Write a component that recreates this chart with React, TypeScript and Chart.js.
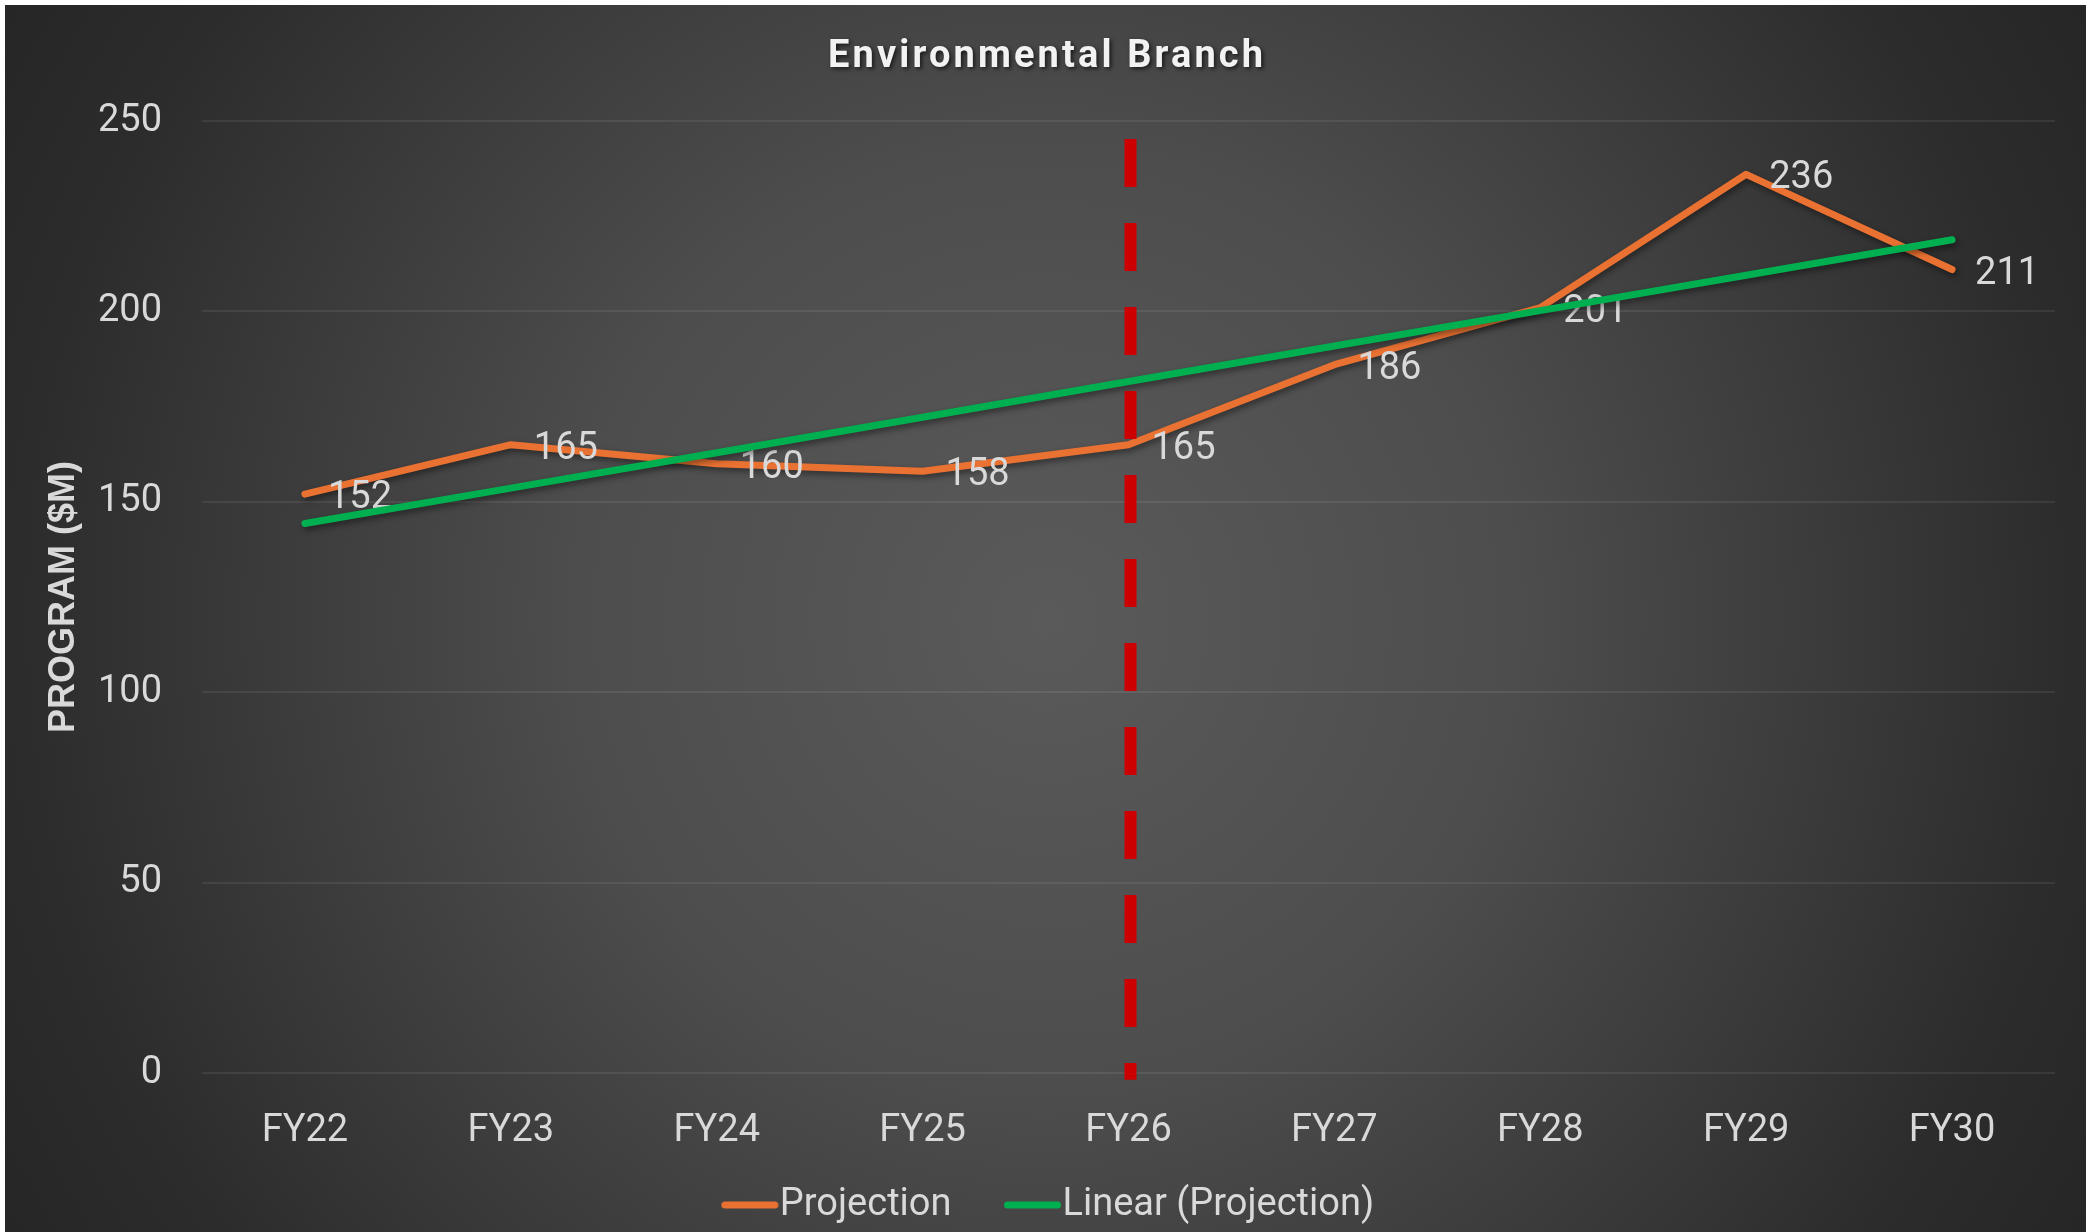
import React, { useEffect, useRef } from "react";
import { Chart, registerables } from "chart.js";

Chart.register(...registerables);

// ---------- data ----------
const categories = ["FY22", "FY23", "FY24", "FY25", "FY26", "FY27", "FY28", "FY29", "FY30"];
const projection = [152, 165, 160, 158, 165, 186, 201, 236, 211];
const linearTrend = [144.3, 153.6, 162.9, 172.2, 181.6, 190.9, 200.2, 209.5, 218.8];
const yTickValues = [0, 50, 100, 150, 200, 250];
const seriesNames = ["Projection", "Linear (Projection)"];
const chartTitle = "Environmental Branch";
const yAxisTitle = "PROGRAM ($M)";
const markerCategory = "FY26";
const markerTop = 245.3;
const markerBottom = -1.8;

// ---------- style ----------
const ORANGE = "#E97132";
const GREEN = "#00B050";
const RED = "#CC0000";
const TEXT = "#D9D9D9";
const FONT = "Roboto";

// legend marker image: lead space, then a 57px rounded line
const MARKER_W = 132;
function makeLegendMarker(color: string) {
  const c = document.createElement("canvas");
  c.width = MARKER_W;
  c.height = 12;
  const g = c.getContext("2d")!;
  g.strokeStyle = color;
  g.lineWidth = 7;
  g.lineCap = "round";
  g.beginPath();
  g.moveTo(67.5, 6);
  g.lineTo(117.5, 6);
  g.stroke();
  return c;
}

const backgroundPlugin = {
  id: "bgGradient",
  beforeDraw(chart: any) {
    const { ctx, width, height } = chart;
    const cx = width / 2;
    const cy = height / 2;
    const r = Math.hypot(cx, cy);
    const g = ctx.createRadialGradient(cx, cy, 0, cx, cy, r);
    g.addColorStop(0, "#5a5a5a");
    g.addColorStop(0.39, "#4d4d4d");
    g.addColorStop(0.63, "#3c3c3c");
    g.addColorStop(0.85, "#2c2c2c");
    g.addColorStop(1, "#262626");
    ctx.save();
    ctx.fillStyle = g;
    ctx.fillRect(0, 0, width, height);
    ctx.restore();
  },
};

const titlePlugin = {
  id: "customTitle",
  afterDraw(chart: any) {
    const { ctx, width } = chart;
    ctx.save();
    ctx.font = `bold 38px ${FONT}`;
    const plain = ctx.measureText(chartTitle).width;
    const target = 435;
    const n = chartTitle.length;
    const spacing = Math.max(0, (target - plain) / (n - 1));
    (ctx as any).letterSpacing = `${spacing}px`;
    ctx.textBaseline = "alphabetic";
    ctx.textAlign = "left";
    ctx.fillStyle = "#F2F2F2";
    ctx.shadowColor = "rgba(0,0,0,0.65)";
    ctx.shadowBlur = 4;
    ctx.shadowOffsetX = 2;
    ctx.shadowOffsetY = 2;
    ctx.fillText(chartTitle, width / 2 - target / 2, 48 + 14);
    ctx.restore();
  },
};

const lineShadowAndLabels = {
  id: "lineShadowAndLabels",
  beforeDatasetDraw(chart: any) {
    const { ctx } = chart;
    ctx.save();
    ctx.shadowColor = "rgba(0,0,0,0.45)";
    ctx.shadowBlur = 6;
    ctx.shadowOffsetX = 2;
    ctx.shadowOffsetY = 3;
  },
  afterDatasetDraw(chart: any, args: any) {
    const { ctx } = chart;
    ctx.restore();
    if (args.index !== 0) return;
    const meta = chart.getDatasetMeta(0);
    ctx.save();
    ctx.font = `38px ${FONT}`;
    ctx.fillStyle = TEXT;
    ctx.textAlign = "left";
    ctx.textBaseline = "alphabetic";
    meta.data.forEach((pt: any, i: number) => {
      ctx.fillText(String(projection[i]), pt.x + 23, pt.y + 14);
    });
    ctx.restore();
  },
};

const markerPlugin = {
  id: "fy26Marker",
  afterDatasetsDraw(chart: any) {
    const { ctx, scales } = chart;
    const x = scales.x.getPixelForValue(categories.indexOf(markerCategory)) + 2;
    const y1 = scales.y.getPixelForValue(markerTop);
    const y2 = scales.y.getPixelForValue(markerBottom);
    ctx.save();
    ctx.strokeStyle = RED;
    ctx.lineWidth = 12;
    ctx.lineCap = "butt";
    ctx.setLineDash([48, 36]);
    ctx.beginPath();
    ctx.moveTo(x, y1);
    ctx.lineTo(x, y2);
    ctx.stroke();
    ctx.restore();
  },
};

export default function App() {
  const ref = useRef<HTMLCanvasElement>(null);

  useEffect(() => {
    if (!ref.current) return;
    Chart.defaults.font.family = FONT;
    const markers = [makeLegendMarker(ORANGE), makeLegendMarker(GREEN)];
    const chart = new Chart(ref.current, {
      type: "line",
      data: {
        labels: categories,
        datasets: [
          {
            label: seriesNames[0],
            data: projection,
            borderColor: ORANGE,
            backgroundColor: ORANGE,
            borderWidth: 7,
            borderCapStyle: "round",
            borderJoinStyle: "round",
            pointRadius: 0,
            pointHoverRadius: 0,
            tension: 0,
            order: 2,
          },
          {
            label: seriesNames[1],
            data: linearTrend,
            borderColor: GREEN,
            backgroundColor: GREEN,
            borderWidth: 7,
            borderCapStyle: "round",
            borderJoinStyle: "round",
            pointRadius: 0,
            pointHoverRadius: 0,
            tension: 0,
            order: 1,
          },
        ],
      },
      options: {
        responsive: false,
        devicePixelRatio: 1,
        animation: false,
        layout: { padding: { top: 116, right: 31, left: 0, bottom: -2 } },
        plugins: {
          title: { display: false },
          tooltip: { enabled: false },
          legend: {
            display: true,
            position: "bottom",
            labels: {
              color: TEXT,
              font: { size: 38, family: FONT },
              usePointStyle: true,
              pointStyleWidth: 75,
              padding: 17,
              sort: (a: any, b: any) => a.datasetIndex - b.datasetIndex,
              generateLabels: (ch: any) => {
                const items = (Chart.defaults.plugins.legend.labels as any).generateLabels(ch);
                return items.map((it: any) => ({
                  ...it,
                  pointStyle: markers[it.datasetIndex],
                  fontColor: TEXT,
                }));
              },
            },
          },
        },
        scales: {
          x: {
            type: "category",
            offset: true,
            grid: { display: false, drawTicks: false },
            border: { display: false },
            ticks: {
              color: TEXT,
              font: { size: 38, family: FONT },
              padding: 36,
              maxRotation: 0,
            },
            afterFit: (s: any) => {
              s.height = 96;
            },
          },
          y: {
            min: 0,
            max: 250,
            afterBuildTicks: (s: any) => {
              s.ticks = yTickValues.map((v) => ({ value: v }));
            },
            grid: {
              color: "rgba(255,255,255,0.075)",
              lineWidth: 2,
              drawTicks: false,
            },
            border: { display: false },
            ticks: {
              color: TEXT,
              font: { size: 38, family: FONT },
              padding: 40,
            },
            title: {
              display: true,
              text: yAxisTitle,
              color: TEXT,
              font: { size: 36, family: "Liberation Sans", weight: "bold" },
              padding: { top: 37, bottom: 0 },
            },
            afterFit: (s: any) => {
              s.width = 197;
            },
          },
        },
      },
      plugins: [backgroundPlugin, lineShadowAndLabels, markerPlugin, titlePlugin],
    } as any);
    return () => chart.destroy();
  }, []);

  return (
    <div
      style={{
        position: "fixed",
        left: 0,
        top: 0,
        width: 2086,
        height: 1232,
        background: "#ffffff",
        overflow: "hidden",
      }}
    >
      <canvas
        ref={ref}
        width={2081}
        height={1227}
        style={{ position: "absolute", left: 5, top: 5, width: 2081, height: 1227 }}
      />
    </div>
  );
}
